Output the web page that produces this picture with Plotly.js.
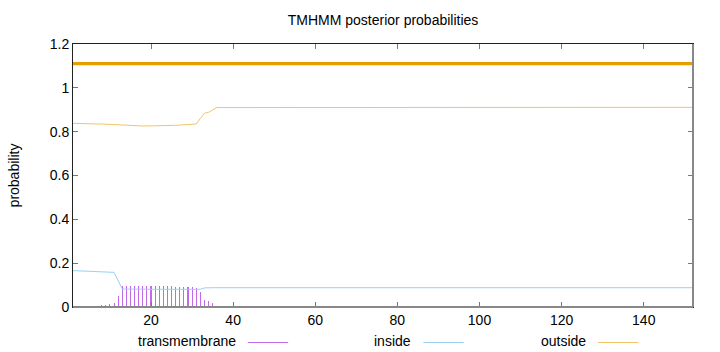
<!DOCTYPE html>
<html>
<head>
<meta charset="utf-8">
<script src="https://cdn.plot.ly/plotly-3.0.1.min.js"></script>
<style>html,body{margin:0;padding:0;background:#fff;}#chart{width:720px;height:352px;}</style>
</head>
<body>
<div id="chart"></div>
<script>
// Transmembrane posterior (impulses)
const tmX = [5,6,7,8,9,10,11,12,13,14,15,16,17,18,19,20,21,22,23,24,25,26,27,28,29,30,31,32,33,34,35];
const tmY = [0.003,0.004,0.005,0.007,0.008,0.015,0.018,0.05,0.095,0.095,0.095,0.095,0.095,0.095,0.095,0.095,0.094,0.094,0.094,0.094,0.094,0.093,0.092,0.091,0.09,0.089,0.088,0.07,0.032,0.028,0.02];

// Inside posterior
const inX = [1,2,3,4,5,6,7,8,9,10,11,12,13,20,25,30,32,33,34,35,152];
const inY = [0.166,0.166,0.165,0.164,0.163,0.162,0.161,0.160,0.159,0.159,0.158,0.12,0.082,0.081,0.081,0.081,0.081,0.087,0.088,0.088,0.088];

// Outside posterior
const outX = [1,2,3,4,5,6,7,8,9,10,11,12,13,14,15,16,17,18,19,20,21,22,23,24,25,26,27,28,29,30,31,32,33,34,35,36,152];
const outY = [0.838,0.837,0.837,0.836,0.836,0.836,0.835,0.835,0.834,0.834,0.832,0.829,0.828,0.827,0.827,0.826,0.826,0.826,0.826,0.826,0.826,0.826,0.827,0.827,0.828,0.829,0.830,0.831,0.832,0.833,0.835,0.860,0.884,0.888,0.900,0.910,0.911];

// Predicted topology bar (outside)
const topoX = [1,152];
const topoY = [1.11,1.11];

const xTicks = [20,40,60,80,100,120,140];
const yTicks = [0,0.2,0.4,0.6,0.8,1,1.2];
const yTickText = ['0','0.2','0.4','0.6','0.8','1','1.2'];
const legendNames = ['transmembrane','inside','outside'];

const cTm = '#c26aea', cIn = '#98d0f1', cOut = '#f2c566', cTopo = '#e69f00';
const font = {family:'Liberation Sans, Arial, sans-serif', size:14, color:'#000'};

const traces = [
  {type:'bar', x:tmX, y:tmY, width:0.26, marker:{color:cTm, line:{width:0}}, showlegend:false, hoverinfo:'skip'},
  {type:'scatter', mode:'lines', x:inX, y:inY, line:{color:cIn, width:1}, showlegend:false},
  {type:'scatter', mode:'lines', x:outX, y:outY, line:{color:cOut, width:1}, showlegend:false},
  {type:'scatter', mode:'lines', x:topoX, y:topoY, line:{color:cTopo, width:3.2}, showlegend:false}
];

const legColors = [cTm, cIn, cOut];
const legTextRight = [0.266, 0.549, 0.831];
const annotations = [];
const shapes = [
  {type:'line', xref:'paper', yref:'paper', x0:1, x1:1, y0:0, y1:1, line:{color:'#888', width:2}},
  {type:'line', xref:'paper', yref:'paper', x0:0, x1:1, y0:0, y1:0, line:{color:'#888', width:2}}
];
legendNames.forEach((n,i)=>{
  annotations.push({xref:'paper', yref:'paper', x:legTextRight[i], y:-0.13, xanchor:'right', yanchor:'middle', text:n, showarrow:false, font:font});
  shapes.push({type:'line', xref:'paper', yref:'paper', x0:legTextRight[i]+0.016, x1:legTextRight[i]+0.081, y0:-0.135, y1:-0.135, line:{color:legColors[i], width:1}});
});

const layout = {
  width:720, height:352,
  margin:{l:73, r:27, t:44, b:45},
  paper_bgcolor:'#fff', plot_bgcolor:'#fff',
  font:font,
  title:{text:'TMHMM posterior probabilities', x:0.532, xanchor:'center', y:0.943, yanchor:'middle', font:font},
  bargap:0,
  xaxis:{range:[1,152], tickvals:xTicks, ticktext:xTicks.map(String), ticks:'inside', ticklen:5, tickcolor:'#777',
         showline:true, linecolor:'#222', linewidth:1, mirror:'ticks', showgrid:false, zeroline:false, tickfont:font},
  yaxis:{range:[0,1.2], tickvals:yTicks, ticktext:yTickText, ticks:'inside', ticklen:5, tickcolor:'#777',
         showline:true, linecolor:'#222', linewidth:1, mirror:'ticks', showgrid:false, zeroline:false, tickfont:font,
         title:{text:'probability', font:font, standoff:26}},
  annotations:annotations,
  shapes:shapes,
  showlegend:false
};

Plotly.newPlot('chart', traces, layout, {displayModeBar:false, staticPlot:true});
</script>
</body>
</html>
